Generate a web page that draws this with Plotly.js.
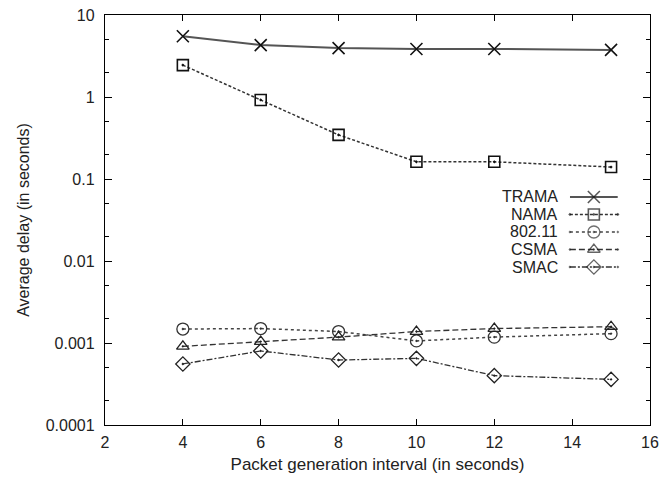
<!DOCTYPE html>
<html>
<head>
<meta charset="utf-8">
<script src="https://cdn.plot.ly/plotly-3.0.1.min.js"></script>
<style>html,body{margin:0;padding:0;background:#fff;}#chart{width:664px;height:477px;}</style>
</head>
<body>
<div id="chart"></div>
<script>
// ---- data ----
const intervals = [4, 6, 8, 10, 12, 15];
const tramaDelay = [5.5, 4.3, 3.95, 3.85, 3.85, 3.75];
const namaDelay  = [2.45, 0.92, 0.345, 0.162, 0.162, 0.14];
const ieeeDelay  = [0.00148, 0.0015, 0.00138, 0.00106, 0.00118, 0.0013];
const csmaDelay  = [0.00091, 0.00104, 0.00118, 0.00138, 0.0015, 0.00158];
const smacDelay  = [0.000555, 0.0008, 0.00062, 0.00065, 0.0004, 0.00036];
const seriesNames = ['TRAMA', 'NAMA', '802.11', 'CSMA', 'SMAC'];
const yTickVals = [0.0001, 0.001, 0.01, 0.1, 1, 10];
const yTickText = ['0.0001', '0.001', '0.01', '0.1', '1', '10'];
const xTickVals = [2, 4, 6, 8, 10, 12, 14, 16];

const styles = [
  {line: {color: '#555', width: 2, dash: 'solid'}, marker: {symbol: 'x-thin-open', size: 12, color: '#111', line: {width: 1.6, color: '#111'}}},
  {line: {color: '#333', width: 1.5, dash: '3px,2px'}, marker: {symbol: 'square-open-dot', size: 11, color: '#111', line: {width: 1.6, color: '#111'}}},
  {line: {color: '#444', width: 1.5, dash: 'dot'}, marker: {symbol: 'circle-open-dot', size: 12, color: '#333', line: {width: 1.3, color: '#333'}}},
  {line: {color: '#333', width: 1.3, dash: '6px,3px'}, marker: {symbol: 'triangle-up-open-dot', size: 11, color: '#222', line: {width: 1.3, color: '#222'}}},
  {line: {color: '#333', width: 1.3, dash: '6px,2px,2px,2px'}, marker: {symbol: 'diamond-open-dot', size: 11, color: '#222', line: {width: 1.3, color: '#222'}}}
];
const seriesData = [tramaDelay, namaDelay, ieeeDelay, csmaDelay, smacDelay];

const traces = [];
seriesData.forEach((vals, i) => {
  traces.push({
    x: intervals, y: vals, type: 'scatter', mode: 'lines+markers',
    name: seriesNames[i], line: styles[i].line, marker: styles[i].marker,
    showlegend: false, cliponaxis: false
  });
});

const fontBase = {family: 'Liberation Sans, Arial, sans-serif', size: 16, color: '#222'};
const titleFont = {family: 'Liberation Sans, Arial, sans-serif', size: 17, color: '#222'};

// custom legend (text to the left of the sample) on a small helper axis
const annotations = [];
seriesNames.forEach((nm, i) => {
  const row = 4 - i;
  const m = Object.assign({}, styles[i].marker, {size: [0, styles[i].marker.size, 0]});
  traces.push({
    x: [0, 0.5, 1], y: [row, row, row], xaxis: 'x2', yaxis: 'y2',
    type: 'scatter', mode: 'lines+markers', line: styles[i].line, marker: m,
    showlegend: false, hoverinfo: 'skip', cliponaxis: false
  });
  annotations.push({
    text: nm, xref: 'paper', yref: 'y2', x: 0.835, y: row,
    xanchor: 'right', yanchor: 'middle', showarrow: false,
    font: fontBase
  });
});

const layout = {
  width: 664, height: 477,
  margin: {l: 105, r: 14, t: 15, b: 52},
  paper_bgcolor: '#fff', plot_bgcolor: '#fff',
  font: fontBase,
  showlegend: false,
  xaxis: {
    range: [2, 16], tickvals: xTickVals, ticks: 'inside', ticklen: 6, tickwidth: 1,
    tickcolor: '#000', showline: true, linecolor: '#000', linewidth: 1.2, mirror: 'ticks',
    showgrid: false, zeroline: false, tickfont: fontBase, ticklabelstandoff: 3,
    title: {text: 'Packet generation interval (in seconds)', font: titleFont, standoff: 7}
  },
  yaxis: {
    type: 'log', range: [-4, 1], tickvals: yTickVals, ticktext: yTickText,
    ticks: 'inside', ticklen: 7, tickwidth: 1, tickcolor: '#000',
    showline: true, linecolor: '#000', linewidth: 1.2, mirror: 'ticks',
    showgrid: false, zeroline: false, tickfont: fontBase, ticklabelstandoff: 6,
    minor: {dtick: 'D2', ticks: 'inside', ticklen: 4, tickcolor: '#000', showgrid: false},
    title: {text: 'Average delay (in seconds)', font: fontBase, standoff: 12}
  },
  xaxis2: {domain: [0.853, 0.941], range: [0, 1], anchor: 'y2', visible: false, fixedrange: true},
  yaxis2: {domain: [0.364, 0.5775], range: [-0.5, 4.5], anchor: 'x2', visible: false, fixedrange: true},
  annotations: annotations
};

Plotly.newPlot('chart', traces, layout, {displayModeBar: false, staticPlot: true});
</script>
</body>
</html>
